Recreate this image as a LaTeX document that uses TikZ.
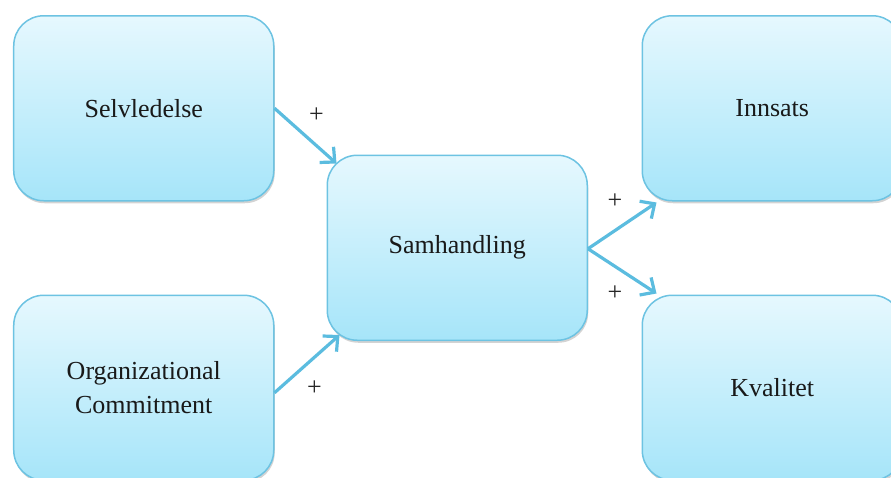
\documentclass[tikz,border=0pt]{standalone}
\usepackage{fontspec}
\setmainfont{Liberation Serif}
\usepackage{tikz}
\usetikzlibrary{positioning,shapes,shadows,arrows.meta}
\definecolor{BoxLine}{HTML}{6DC3E2}
\definecolor{BoxTop}{HTML}{E6F8FE}
\definecolor{BoxBottom}{HTML}{A6E5F9}
\definecolor{ArrowBlue}{HTML}{5BBCDF}
\tikzstyle{BoxNode}=[rectangle, rounded corners=30pt, draw=BoxLine, line width=1.5pt, top color=BoxTop, bottom color=BoxBottom, drop shadow={shadow xshift=1pt, shadow yshift=-2.5pt, opacity=0.35}, minimum width=260pt, minimum height=185pt, align=center, text=black!90, font=\fontsize{26}{34}\selectfont]
\tikzstyle{PlusNode}=[text=black!85, font=\fontsize{26}{30}\selectfont, inner sep=0pt]
\tikzstyle{LinkArrow}=[draw=ArrowBlue, line width=3.2pt, -{Straight Barb[length=11pt, width=21pt, line width=3.2pt]}]

\begin{document}
\begin{tikzpicture}

    \node (Selvledelse) [BoxNode] {Selvledelse};
    \useasboundingbox ([shift={(-13pt,15pt)}]Selvledelse.north west) rectangle ++(891pt,-477pt);
    \node (OrgCommit) [BoxNode, below=93pt of Selvledelse] {Organizational\\Commitment};
    \node (Samhandling) [BoxNode, below right=-47pt and 52pt of Selvledelse] {Samhandling};
    \node (Innsats) [BoxNode, right=367pt of Selvledelse] {Innsats};
    \node (Kvalitet) [BoxNode, below=93pt of Innsats] {Kvalitet};

    \node (PlusSelv) [PlusNode] at ([shift={(42pt,-7pt)}]Selvledelse.east) {+};
    \node (PlusOrg) [PlusNode] at ([shift={(40pt,0pt)}]OrgCommit.east) {+};
    \node (PlusInnsats) [PlusNode] at ([shift={(27pt,47pt)}]Samhandling.east) {+};
    \node (PlusKvalitet) [PlusNode] at ([shift={(27pt,-45pt)}]Samhandling.east) {+};

    \draw [LinkArrow] (Selvledelse.east) -- ([shift={(10pt,-9pt)}]Samhandling.north west);
    \draw [LinkArrow] ([yshift=-5pt]OrgCommit.east) -- ([shift={(13pt,6pt)}]Samhandling.south west);
    \draw [LinkArrow] ([yshift=-1pt]Samhandling.east) -- ([shift={(15pt,-1pt)}]Innsats.south west);
    \draw [LinkArrow] ([yshift=-1pt]Samhandling.east) -- ([shift={(15pt,1pt)}]Kvalitet.north west);

  \end{tikzpicture}
\end{document}
